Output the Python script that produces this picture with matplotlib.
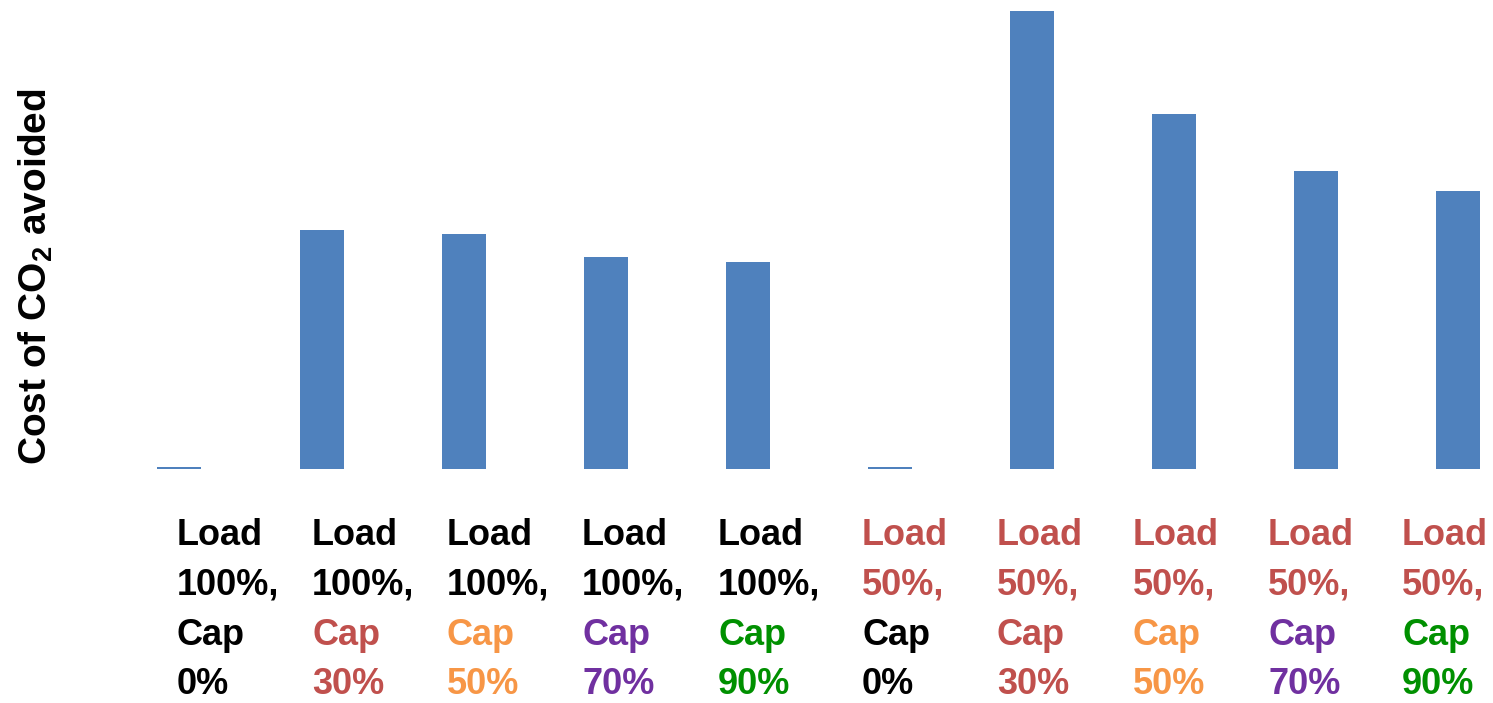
import matplotlib
matplotlib.use("Agg")
import matplotlib.pyplot as plt

plt.rcParams["font.family"] = ["Liberation Sans", "DejaVu Sans"]
plt.rcParams["mathtext.fontset"] = "custom"
plt.rcParams["mathtext.rm"] = "Liberation Sans"
plt.rcParams["mathtext.bf"] = "Liberation Sans:bold"

# data (arbitrary units)
load_labels = ["100%", "100%", "100%", "100%", "100%", "50%", "50%", "50%", "50%", "50%"]
cap_labels = ["0%", "30%", "50%", "70%", "90%", "0%", "30%", "50%", "70%", "90%"]
cost_avoided = [2, 239, 235, 212, 207, 2, 458, 355, 298, 278]

BLUE = "#4F81BD"
CAP_COLORS = {"0%": "#000000", "30%": "#C0504D", "50%": "#F79646",
              "70%": "#7030A0", "90%": "#009000"}
LOAD_COLORS = {"100%": "#000000", "50%": "#C0504D"}

W, H = 1493, 703
fig = plt.figure(figsize=(W / 100, H / 100), dpi=100)

# axes: baseline at 469 px from top, first bar centre at x=179.5 px, pitch 142 px
base_y = 469
ax = fig.add_axes([0, (H - base_y) / H, 1, base_y / H])
x0, pitch = 179.5, 142
ax.set_xlim(-x0 / pitch, (W - x0) / pitch)
ax.set_ylim(0, base_y)
ax.bar(range(len(cost_avoided)), cost_avoided, width=44 / pitch, color=BLUE)
ax.axis("off")

# category labels, four lines each, coloured parts
lefts = [177, 312, 447, 582, 718, 862, 997, 1133, 1268, 1402]
baselines = [545, 595, 645, 694]
fs = 26
for left, ld, cp in zip(lefts, load_labels, cap_labels):
    lines = [("Load", LOAD_COLORS[ld]), (ld + ",", LOAD_COLORS[ld]),
             ("Cap", CAP_COLORS[cp]), (cp, CAP_COLORS[cp])]
    for (txt, col), by in zip(lines, baselines):
        fig.text(left / W, (H - by) / H, txt, color=col, fontsize=fs,
                 fontweight="bold", ha="left", va="baseline")

fig.text(36 / W, (H - 277) / H, r"Cost of CO$_\mathbf{2}$ avoided", rotation=90,
         fontsize=28, fontweight="bold", ha="center", va="center")

fig.savefig("out.png", dpi=100, facecolor="white")
